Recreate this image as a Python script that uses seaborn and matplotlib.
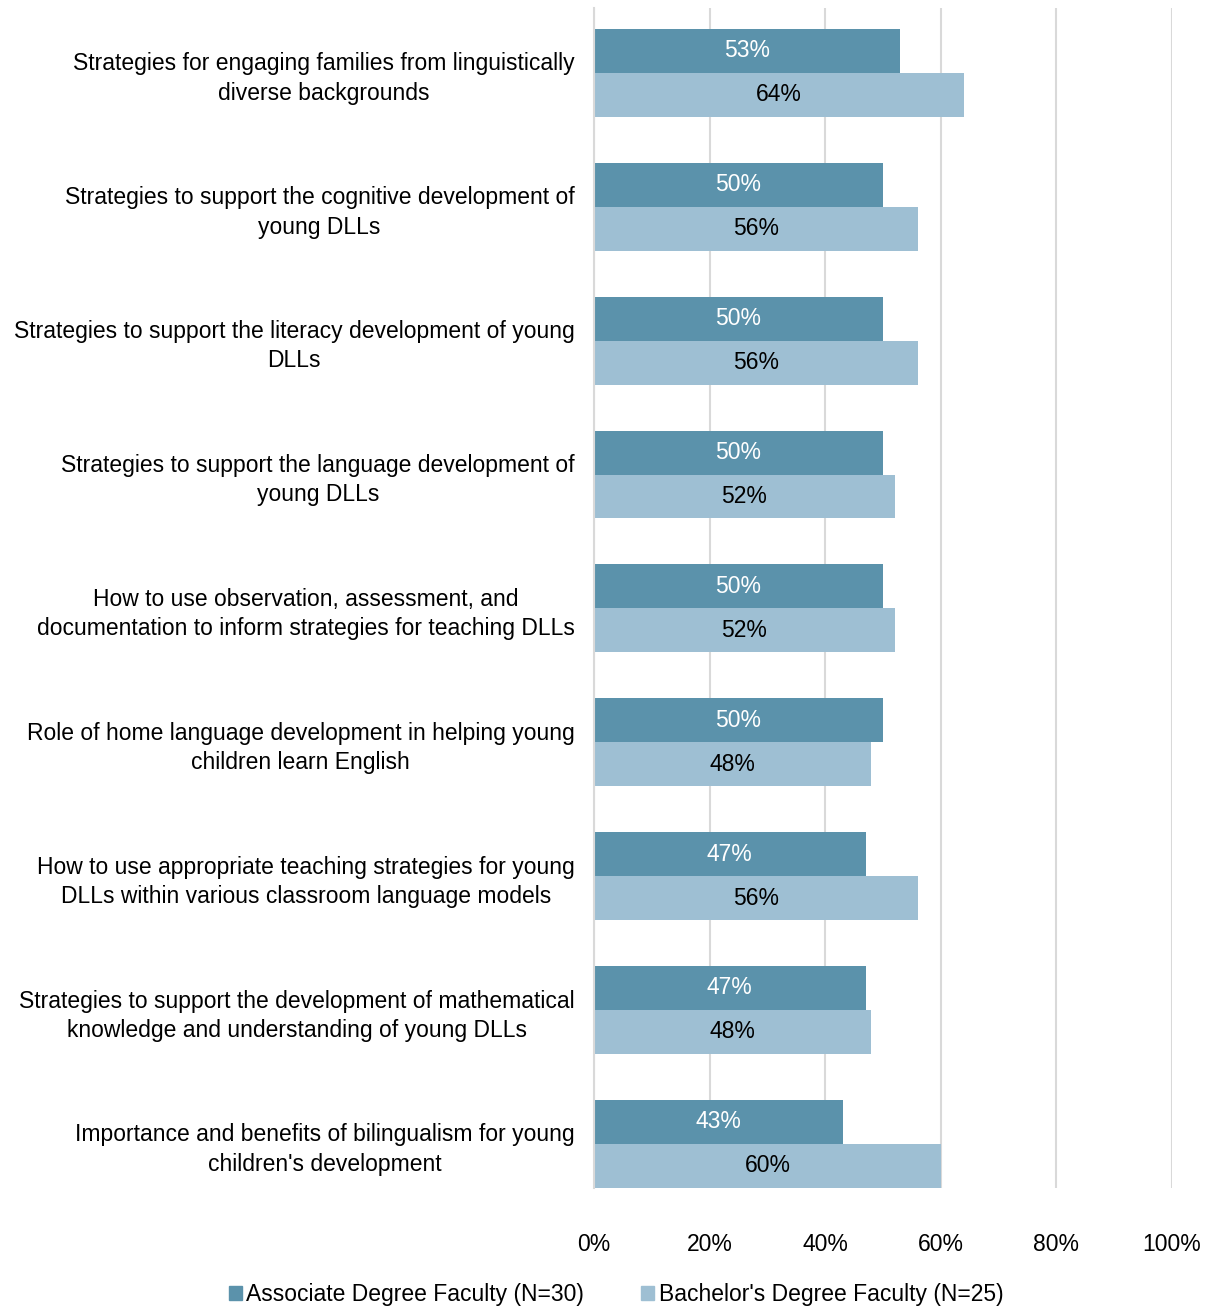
import pandas as pd
import matplotlib.pyplot as plt
import seaborn as sns

topics = [
    "Strategies for engaging families from linguistically\ndiverse backgrounds",
    "Strategies to support the cognitive development of\nyoung DLLs",
    "Strategies to support the literacy development of young\nDLLs",
    "Strategies to support the language development of\nyoung DLLs",
    "How to use observation, assessment, and\ndocumentation to inform strategies for teaching DLLs",
    "Role of home language development in helping young\nchildren learn English",
    "How to use appropriate teaching strategies for young\nDLLs within various classroom language models",
    "Strategies to support the development of mathematical\nknowledge and understanding of young DLLs",
    "Importance and benefits of bilingualism for young\nchildren's development",
]
associate = [53, 50, 50, 50, 50, 50, 47, 47, 43]
bachelor = [64, 56, 56, 52, 52, 48, 56, 48, 60]
groups = ["Associate Degree Faculty (N=30)", "Bachelor's Degree Faculty (N=25)"]
colors = ["#5B92AB", "#9EBFD3"]

df = pd.DataFrame({
    "topic": topics * 2,
    "pct": associate + bachelor,
    "group": [groups[0]] * len(topics) + [groups[1]] * len(topics),
})

sns.set_style("white")
plt.rcParams["font.family"] = ["Liberation Sans", "DejaVu Sans"]
plt.rcParams["text.color"] = "black"
plt.rcParams["xtick.color"] = "black"
plt.rcParams["ytick.color"] = "black"

fig = plt.figure(figsize=(12.08, 13.07), dpi=100)
ax = fig.add_axes([0.4917, 0.091, 0.4785, 0.9029])

sns.barplot(data=df, y="topic", x="pct", hue="group", palette=colors,
            width=0.657, orient="h", ax=ax, legend=False, saturation=1,
            linewidth=0)

for cont, col in zip(ax.containers, ["white", "black"]):
    lbls = ax.bar_label(cont, labels=[f"{v:.0f}%" for v in cont.datavalues],
                        label_type="center", color=col, fontsize=16.5)
    for t in lbls:
        t.set_y(t.get_position()[1] + 0.02)

ax.set_xlim(0, 100)
ax.set_ylim(8.33, -0.485)
ax.set_xticks(range(0, 101, 20))
ax.set_xticklabels([f"{t}%" for t in range(0, 101, 20)], fontsize=16.5)
ax.tick_params(axis="x", pad=32, length=0)
ax.tick_params(axis="y", length=0, pad=14)
for lab in ax.get_yticklabels():
    lab.set_fontsize(16.5)
    lab.set_multialignment("center")
    lab.set_linespacing(1.35)
ax.set_xlabel("")
ax.set_ylabel("")
ax.grid(axis="x", color="#D9D9D9", linewidth=1.5)
ax.set_axisbelow(True)
for s in ["top", "right", "bottom"]:
    ax.spines[s].set_visible(False)
ax.spines["left"].set_color("#D9D9D9")
ax.spines["left"].set_linewidth(1.5)

handles = [plt.Rectangle((0, 0), 1, 1, color=c) for c in colors]
fig.legend(handles, groups, loc="lower center", bbox_to_anchor=(0.51, -0.015),
           ncol=2, frameon=False, fontsize=16.5, handlelength=0.55,
           handleheight=0.55, handletextpad=0.2, columnspacing=2.5)

fig.savefig("out.png", dpi=100)
